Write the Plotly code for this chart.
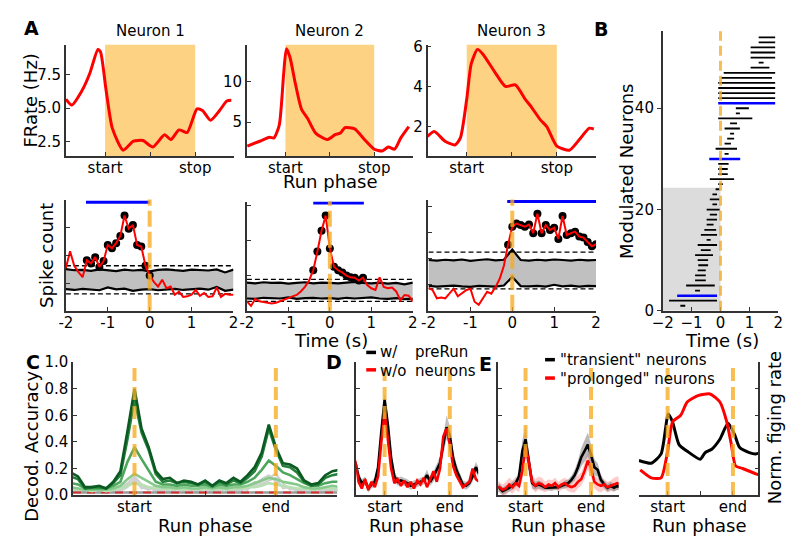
import numpy as np
import plotly.graph_objects as go

W, H = 800, 552
FONT = "DejaVu Sans"
ORANGE = "rgba(247,172,35,0.78)"
ORANGE_FILL = "#fed283"

# ---------------- DATA ----------------
# Panel A top: firing rate (Hz) vs run phase (0 = start, 1 = stop)
n1_phase = [-0.435, -0.37, -0.26, -0.17, -0.08, -0.05, 0.01, 0.08, 0.20, 0.315, 0.42, 0.53, 0.66, 0.73, 0.82, 0.91, 1.02, 1.08, 1.17, 1.27, 1.35, 1.40]
n1_rate = [5.67, 5.23, 6.27, 7.6, 9.4, 9.2, 6.4, 3.5, 1.85, 2.52, 2.57, 2.09, 3.0, 2.64, 3.37, 3.17, 4.94, 4.82, 4.09, 4.82, 5.54, 5.59]
n2_phase = [-0.43, -0.29, -0.18, -0.13, -0.07, -0.02, 0.01, 0.05, 0.11, 0.18, 0.25, 0.34, 0.47, 0.56, 0.62, 0.67, 0.78, 0.89, 1.0, 1.09, 1.16, 1.23, 1.30, 1.39]
n2_rate = [2.06, 2.65, 3.13, 3.06, 4.64, 11.0, 14.0, 13.0, 9.8, 6.6, 5.44, 3.65, 2.86, 3.45, 3.65, 4.32, 4.17, 2.86, 1.67, 1.46, 1.94, 1.67, 3.06, 4.44]
n3_phase = [-0.435, -0.36, -0.24, -0.13, -0.07, 0.0, 0.05, 0.12, 0.18, 0.31, 0.43, 0.54, 0.65, 0.72, 0.82, 0.89, 1.0, 1.14, 1.25, 1.36, 1.41]
n3_rate = [1.53, 1.77, 1.29, 1.10, 1.46, 3.38, 5.15, 5.87, 5.63, 4.75, 4.02, 4.1, 3.38, 2.98, 2.34, 2.01, 1.05, 0.84, 1.37, 1.94, 1.9]

# Panel A bottom: spike counts around run start (s)
t_fine = [round(-2 + 0.1 * i, 1) for i in range(41)]
t_coarse = [round(-2 + 0.2 * i, 1) for i in range(21)]
n1_count = [1.54, 2.14, 1.62, 1.39, 1.21, 1.82, 1.70, 1.93, 1.58, 1.79, 2.37, 2.25, 2.43, 2.69, 3.43, 2.95, 3.09, 2.37, 2.31, 1.62, 1.27,
            1.04, 0.87, 1.12, 0.81, 0.87, 0.58, 0.69, 0.50, 0.52, 0.58, 0.75, 0.54, 0.64, 0.50, 0.52, 0.84, 0.50, 0.61, 0.58, 0.58]
n1_upper = [1.50, 1.46, 1.47, 1.44, 1.49, 1.46, 1.43, 1.48, 1.45, 1.47, 1.42, 1.47, 1.49, 1.46, 1.44, 1.48, 1.47, 1.45, 1.49, 1.38, 1.48]
n1_lower = [0.78, 0.75, 0.79, 0.76, 0.74, 0.84, 0.77, 0.80, 0.72, 0.76, 0.78, 0.74, 0.77, 0.79, 0.75, 0.77, 0.80, 0.76, 0.86, 0.72, 0.76]
n1_thresh = [1.62, 0.61]
n1_sig = [-1.52, 0.0, 3.9]

n2_count = [0.27, 0.14, 0.34, 0.27, 0.25, 0.23, 0.21, 0.23, 0.27, 0.30, 0.36, 0.41, 0.45, 0.55, 0.68, 0.86, 1.15, 1.68, 2.27, 2.70, 1.77,
            1.25, 1.15, 1.09, 1.00, 0.95, 0.94, 0.86, 0.94, 0.73, 0.64, 0.59, 0.95, 0.68, 0.64, 0.66, 0.55, 0.30, 0.45, 0.43, 0.27]
n2_upper = [0.80, 0.78, 0.81, 0.79, 0.80, 0.77, 0.79, 0.81, 0.78, 0.80, 0.79, 0.78, 0.80, 0.82, 0.79, 0.78, 0.80, 0.77, 0.79, 0.75, 0.80]
n2_lower = [0.35, 0.34, 0.37, 0.36, 0.35, 0.38, 0.34, 0.36, 0.37, 0.35, 0.36, 0.34, 0.37, 0.35, 0.36, 0.38, 0.35, 0.34, 0.36, 0.33, 0.34]
n2_thresh = [0.89, 0.27]
n2_sig = [-0.40, 0.82, 3.06]

n3_count = [0.89, 0.79, 0.48, 0.51, 0.48, 0.66, 0.85, 0.56, 0.66, 0.79, 0.85, 0.35, 0.23, 0.48, 0.73, 0.66, 0.91, 1.23, 1.73, 2.54, 3.23,
            3.35, 3.29, 3.23, 3.31, 2.98, 3.73, 2.98, 3.29, 3.10, 3.19, 2.76, 3.64, 2.91, 2.98, 3.04, 2.85, 2.81, 2.64, 2.48, 2.56]
n3_upper = [1.95, 1.93, 1.96, 1.94, 1.97, 1.92, 1.95, 1.98, 1.94, 1.96, 2.35, 1.95, 1.93, 1.96, 1.94, 1.97, 1.95, 1.93, 1.96, 1.94, 1.95]
n3_lower = [0.96, 0.93, 0.95, 0.97, 0.94, 0.92, 0.96, 0.95, 0.93, 0.97, 1.30, 0.95, 0.94, 0.96, 0.93, 1.00, 0.94, 0.97, 0.93, 0.96, 0.95]
n3_thresh = [2.25, 0.84]
n3_sig = [-0.12, 2.0, 4.2]

# Panel B: modulation windows (s) for each modulated neuron (rows 1..54)
b_start = [-1.39, -1.78, -1.50, -0.88, -1.19, -0.88, -0.88, -0.79, -0.77, -0.79, -0.88, -0.68, -0.79, -0.48, -0.68, -0.56, -0.48, -0.48,
           -0.37, -0.48, -0.28, -0.37, -0.28, -0.17, -0.08, -0.37, -0.08, -0.08, -0.08, -0.39, 0.14, -0.17, 0.14, 0.23, 0.33, 0.14,
           0.33, -0.08, 0.53, 0.53, -0.08, -0.08, -0.08, -0.08, -0.08, 0.02, 0.11, 1.04, 1.32, 1.04, 1.04, 1.04, 1.32, 1.32]
b_end = [-1.22, -0.12, -0.12, -0.71, -0.20, -0.51, -0.51, -0.51, -0.43, -0.43, -0.26, -0.34, -0.12, -0.34, -0.12, -0.15, -0.24, -0.12,
         -0.12, -0.03, -0.12, -0.03, -0.12, -0.03, 0.08, 0.47, 0.25, 0.25, 0.28, 0.68, 0.28, 0.57, 0.36, 0.47, 0.47, 0.67,
         0.57, 1.10, 0.67, 0.98, 1.89, 1.89, 1.89, 1.89, 1.89, 1.78, 1.89, 1.69, 1.49, 1.89, 1.89, 1.89, 1.89, 1.89]
b_highlight = [3, 30, 41]
b_pre_rows = 24.3

# Panel C: decoding accuracy vs run phase
phase = [round(-0.45 + 0.05 * i, 2) for i in range(39)]
acc_g1 = [0.17, 0.14, 0.06, 0.06, 0.07, 0.05, 0.10, 0.18, 0.48, 0.80, 0.50, 0.36, 0.18, 0.12, 0.13, 0.09, 0.11, 0.10, 0.08, 0.11,
          0.07, 0.11, 0.09, 0.13, 0.10, 0.15, 0.21, 0.32, 0.53, 0.36, 0.24, 0.23, 0.20, 0.11, 0.08, 0.09, 0.15, 0.18, 0.19]
acc_g2 = [0.14, 0.12, 0.05, 0.06, 0.06, 0.05, 0.09, 0.15, 0.42, 0.72, 0.47, 0.34, 0.16, 0.10, 0.11, 0.09, 0.10, 0.09, 0.08, 0.10,
          0.07, 0.10, 0.08, 0.11, 0.09, 0.13, 0.18, 0.29, 0.50, 0.34, 0.22, 0.21, 0.17, 0.10, 0.07, 0.08, 0.13, 0.15, 0.16]
acc_g3 = [0.09, 0.08, 0.05, 0.05, 0.05, 0.05, 0.07, 0.10, 0.25, 0.36, 0.27, 0.18, 0.10, 0.08, 0.08, 0.07, 0.08, 0.07, 0.07, 0.08,
          0.06, 0.08, 0.07, 0.08, 0.08, 0.10, 0.13, 0.19, 0.26, 0.22, 0.17, 0.15, 0.12, 0.09, 0.07, 0.07, 0.09, 0.10, 0.10]
acc_g4 = [0.06, 0.05, 0.04, 0.04, 0.04, 0.04, 0.05, 0.07, 0.12, 0.16, 0.13, 0.10, 0.07, 0.06, 0.06, 0.05, 0.06, 0.05, 0.05, 0.06,
          0.05, 0.06, 0.05, 0.06, 0.06, 0.07, 0.09, 0.11, 0.13, 0.12, 0.10, 0.09, 0.08, 0.06, 0.05, 0.05, 0.06, 0.07, 0.06]
acc_g5 = [0.05, 0.04, 0.04, 0.03, 0.04, 0.03, 0.04, 0.05, 0.07, 0.09, 0.08, 0.06, 0.05, 0.05, 0.04, 0.05, 0.04, 0.05, 0.04, 0.05,
          0.04, 0.05, 0.04, 0.05, 0.05, 0.06, 0.06, 0.07, 0.09, 0.08, 0.07, 0.06, 0.05, 0.05, 0.04, 0.05, 0.05, 0.05, 0.04]
acc_shuf1 = [0.04, 0.03, 0.05, 0.02, 0.04, 0.06, 0.03, 0.05, 0.08, 0.10, 0.06, 0.04, 0.07, 0.03, 0.05, 0.04, 0.06, 0.03, 0.05, 0.04,
             0.03, 0.06, 0.04, 0.05, 0.03, 0.06, 0.08, 0.12, 0.15, 0.10, 0.07, 0.05, 0.04, 0.06, 0.03, 0.05, 0.04, 0.03, 0.05]
acc_shuf2 = [0.03, 0.05, 0.02, 0.04, 0.03, 0.02, 0.05, 0.03, 0.06, 0.12, 0.05, 0.06, 0.03, 0.05, 0.02, 0.06, 0.03, 0.05, 0.02, 0.05,
             0.06, 0.03, 0.05, 0.02, 0.05, 0.04, 0.10, 0.08, 0.11, 0.13, 0.05, 0.06, 0.03, 0.04, 0.05, 0.02, 0.06, 0.04, 0.03]
acc_shuf3 = [0.05, 0.04, 0.03, 0.05, 0.02, 0.04, 0.03, 0.06, 0.09, 0.14, 0.08, 0.05, 0.04, 0.03, 0.06, 0.02, 0.05, 0.04, 0.03, 0.06,
             0.02, 0.04, 0.05, 0.03, 0.06, 0.05, 0.07, 0.10, 0.13, 0.16, 0.09, 0.04, 0.05, 0.03, 0.06, 0.04, 0.03, 0.05, 0.04]
chance_level = 0.02

# Panel D: with / without preRun neurons
d_with = [0.25, 0.14, 0.09, 0.11, 0.05, 0.08, 0.10, 0.21, 0.48, 0.72, 0.53, 0.28, 0.14, 0.10, 0.11, 0.10, 0.09, 0.07, 0.08, 0.09,
          0.10, 0.11, 0.15, 0.10, 0.14, 0.19, 0.24, 0.38, 0.51, 0.45, 0.28, 0.19, 0.14, 0.08, 0.07, 0.09, 0.14, 0.21, 0.16]
d_with_sem = [0.03, 0.03, 0.03, 0.03, 0.03, 0.03, 0.03, 0.04, 0.06, 0.05, 0.06, 0.05, 0.04, 0.03, 0.03, 0.03, 0.03, 0.03, 0.03, 0.03,
              0.03, 0.03, 0.04, 0.03, 0.04, 0.04, 0.05, 0.07, 0.09, 0.07, 0.06, 0.05, 0.04, 0.03, 0.03, 0.03, 0.04, 0.04, 0.04]
d_without = [0.26, 0.10, 0.05, 0.12, 0.04, 0.10, 0.06, 0.14, 0.40, 0.62, 0.42, 0.20, 0.09, 0.12, 0.07, 0.11, 0.06, 0.10, 0.05, 0.11,
             0.08, 0.13, 0.06, 0.12, 0.18, 0.10, 0.20, 0.44, 0.50, 0.38, 0.22, 0.15, 0.10, 0.06, 0.08, 0.10, 0.20, 0.12, 0.10]

# Panel E (left): transient vs prolonged neurons, decoding
e_trans = [0.06, 0.055, 0.03, 0.04, 0.055, 0.07, 0.09, 0.14, 0.33, 0.42, 0.24, 0.09, 0.07, 0.08, 0.07, 0.055, 0.055, 0.055, 0.055, 0.06,
           0.07, 0.08, 0.09, 0.115, 0.15, 0.21, 0.285, 0.33, 0.38, 0.30, 0.21, 0.19, 0.115, 0.08, 0.055, 0.07, 0.055, 0.07, 0.06]
e_trans_sem = [0.03, 0.03, 0.03, 0.03, 0.03, 0.03, 0.03, 0.04, 0.08, 0.10, 0.07, 0.04, 0.03, 0.03, 0.03, 0.02, 0.02, 0.02, 0.02, 0.02,
               0.02, 0.03, 0.03, 0.03, 0.04, 0.05, 0.07, 0.08, 0.09, 0.08, 0.06, 0.05, 0.04, 0.03, 0.03, 0.03, 0.03, 0.03, 0.03]
e_prol = [0.06, 0.06, 0.04, 0.05, 0.08, 0.06, 0.09, 0.07, 0.18, 0.36, 0.25, 0.10, 0.07, 0.09, 0.08, 0.06, 0.08, 0.07, 0.09, 0.06,
          0.08, 0.09, 0.07, 0.06, 0.07, 0.10, 0.12, 0.18, 0.26, 0.20, 0.10, 0.08, 0.07, 0.08, 0.06, 0.07, 0.08, 0.09, 0.08]
e_prol_sem = [0.04, 0.04, 0.04, 0.05, 0.05, 0.05, 0.05, 0.05, 0.07, 0.08, 0.07, 0.05, 0.05, 0.05, 0.05, 0.04, 0.04, 0.04, 0.04, 0.04,
              0.04, 0.04, 0.04, 0.04, 0.05, 0.05, 0.05, 0.06, 0.07, 0.06, 0.05, 0.05, 0.05, 0.04, 0.04, 0.04, 0.05, 0.05, 0.05]

# Panel E (right): normalized firing rate
fr_trans_phase = [-0.44, -0.25, -0.10, 0.01, 0.075, 0.175, 0.30, 0.50, 0.575, 0.675, 0.80, 0.925, 1.025, 1.10, 1.25, 1.35, 1.42]
fr_trans = [0.26, 0.24, 0.31, 0.61, 0.55, 0.38, 0.33, 0.27, 0.32, 0.345, 0.42, 0.54, 0.455, 0.36, 0.32, 0.31, 0.32]
fr_prol_phase = [-0.42, -0.25, -0.10, 0.0, 0.075, 0.2, 0.3, 0.475, 0.65, 0.8, 0.9, 0.975, 1.04, 1.15, 1.35, 1.42]
fr_prol = [0.19, 0.13, 0.13, 0.33, 0.55, 0.60, 0.70, 0.75, 0.76, 0.70, 0.56, 0.38, 0.22, 0.20, 0.16, 0.15]

# ---------------- FIGURE ----------------
fig = go.Figure()
shapes = []
annots = []

base = dict(showline=True, linecolor='#333', linewidth=1.5, ticks='inside', ticklen=4, tickwidth=1.3,
            tickcolor='#333', showgrid=False, zeroline=False, fixedrange=True,
            tickfont=dict(size=15, color='black', family=FONT))


def make_axes(i, px0, px1, ptop, pbot, xr, yr, xkw=None, ykw=None):
    s = '' if i == 1 else str(i)
    xd = dict(base, domain=[px0 / W, px1 / W], range=xr, anchor='y' + s, ticklabelstandoff=-3)
    xd.update(xkw or {})
    yd = dict(base, domain=[1 - pbot / H, 1 - ptop / H], range=yr, anchor='x' + s)
    yd.update(ykw or {})
    fig.update_layout(**{'xaxis' + s: xd, 'yaxis' + s: yd})
    return 'x' + s, 'y' + s


def line(xn, yn, x, y, color, width, dash=None, shape='linear', mode='lines'):
    fig.add_trace(go.Scatter(x=x, y=y, xaxis=xn, yaxis=yn, mode=mode, showlegend=False, hoverinfo='skip',
                             line=dict(color=color, width=width, dash=dash, shape=shape, smoothing=0.6)))


def band(xn, yn, x, lo, hi, color):
    fig.add_trace(go.Scatter(x=list(x) + list(x)[::-1], y=list(hi) + list(lo)[::-1], xaxis=xn, yaxis=yn,
                             mode='lines', fill='toself', fillcolor=color, line=dict(width=0),
                             showlegend=False, hoverinfo='skip'))


def vdash(xn, yn, xval, width=4, dash='13px,6px', y0=0, y1=1):
    shapes.append(dict(type='line', xref=xn, yref=yn + ' domain', x0=xval, x1=xval, y0=y0, y1=y1,
                       line=dict(color=ORANGE, width=width, dash=dash), layer='above'))


def text(t, x, y, size=15, bold=False, angle=0, xanchor='center'):
    annots.append(dict(text=('<b>%s</b>' % t) if bold else t, x=x / W, y=1 - y / H, xref='paper', yref='paper',
                       showarrow=False, textangle=angle, xanchor=xanchor, yanchor='middle',
                       font=dict(size=size, color='black', family=FONT)))


PR = [-0.435, 1.435]
phase_x = dict(tickvals=[0, 0.5, 1], ticktext=['start', '', 'end'])

# --- A top ---
top_specs = [
    (1, 56, 228, n1_phase, n1_rate, [1.41, 9.75], [2.5, 5.0, 7.5], ['2.5', '5.0', '7.5'], 'Neuron 1'),
    (2, 240.7, 410, n2_phase, n2_rate, [0.83, 14.5], [5, 10], ['5', '10'], 'Neuron 2'),
    (3, 425, 597, n3_phase, n3_rate, [0.55, 6.1], [2, 4, 6], ['2', '4', '6'], 'Neuron 3'),
]
for i, a, b, px, py, yr, tv, tt, title in top_specs:
    xn, yn = make_axes(i, a, b, 37, 152, PR, yr,
                       dict(tickvals=[0, 0.5, 1], ticktext=['start', '', 'stop']),
                       dict(tickvals=tv, ticktext=tt))
    shapes.append(dict(type='rect', xref=xn, yref=yn + ' domain', x0=0, x1=1, y0=0, y1=1,
                       fillcolor=ORANGE_FILL, line=dict(width=0), layer='below'))
    line(xn, yn, px, py, 'red', 3, shape='spline')
    text(title, (a + b) / 2, 23, 15)

# --- A bottom ---
bot_specs = [
    (4, 56, 227, 197, n1_count, n1_upper, n1_lower, n1_thresh, n1_sig, [0, 4.0], [1, 2, 3, 4]),
    (5, 240.7, 410, 199, n2_count, n2_upper, n2_lower, n2_thresh, n2_sig, [0, 3.1], [1, 2, 3]),
    (6, 426, 597, 197, n3_count, n3_upper, n3_lower, n3_thresh, n3_sig, [0, 4.27], [1, 2, 3, 4]),
]
for i, a, b, top, cnt, up, lo, th, sig, yr, tv in bot_specs:
    xn, yn = make_axes(i, a, b, top, 312, [-2, 2], yr,
                       dict(tickvals=[-2, -1, 0, 1, 2], ticktext=['-2', '-1', '0', '1', '2']),
                       dict(tickvals=tv, showticklabels=False))
    band(xn, yn, t_coarse, lo, up, '#c0c0c0')
    line(xn, yn, t_coarse, up, 'black', 2.2)
    line(xn, yn, t_coarse, lo, 'black', 2.2)
    for v in th:
        line(xn, yn, [-2, 2], [v, v], 'black', 1.3, dash='5px,3px')
    sx = [t for t in t_fine if sig[0] - 1e-9 <= t <= sig[1] + 1e-9]
    sy = [c for t, c in zip(t_fine, cnt) if sig[0] - 1e-9 <= t <= sig[1] + 1e-9]
    fig.add_trace(go.Scatter(x=sx, y=sy, xaxis=xn, yaxis=yn, mode='markers', showlegend=False, hoverinfo='skip',
                             marker=dict(color='black', size=8)))
    line(xn, yn, t_fine, cnt, 'red', 2)
    line(xn, yn, [sig[0], sig[1]], [sig[2], sig[2]], 'blue', 3)
    vdash(xn, yn, 0, width=4, dash='16px,5px')

# --- B ---
xn, yn = make_axes(7, 665, 783, 23, 312, [-2, 2], [0, 55.2],
                   dict(tickvals=[-2, -1, 0, 1, 2], ticktext=['\u22122', '\u22121', '0', '1', '2']),
                   dict(tickvals=[0, 20, 40], ticks='outside'))
shapes.append(dict(type='rect', xref=xn, yref=yn, x0=-2, x1=0, y0=0, y1=b_pre_rows,
                   fillcolor='#dcdcdc', line=dict(width=0), layer='below'))
bx, by, hx, hy = [], [], [], []
for k, (s, e) in enumerate(zip(b_start, b_end), start=1):
    if k in b_highlight:
        hx += [s, e, None]; hy += [k, k, None]
    else:
        bx += [s, e, None]; by += [k, k, None]
line(xn, yn, bx, by, 'black', 1.8)
line(xn, yn, hx, hy, 'blue', 2.5)
vdash(xn, yn, 0, width=3, dash='10px,5px')

# --- C ---
xn, yn = make_axes(8, 63.3, 333, 365, 502.5, PR, [0, 1.0], phase_x,
                   dict(tickvals=[0, 0.2, 0.4, 0.6, 0.8, 1.0], ticktext=['0.0', '0.2', '0.4', '0.6', '0.8', '1.0']))
for arr in (acc_shuf1, acc_shuf2, acc_shuf3):
    line(xn, yn, phase, arr, '#cfcfcf', 2)
line(xn, yn, [PR[0], PR[1]], [chance_level, chance_level], '#9a9a9a', 2.5)
line(xn, yn, [PR[0], PR[1]], [chance_level, chance_level], '#d43030', 2, dash='8px,6px')
for arr, col in ((acc_g5, '#b8e0b4'), (acc_g4, '#86c98a'), (acc_g3, '#4ca65c'), (acc_g2, '#237f3a'), (acc_g1, '#0b5a22')):
    line(xn, yn, phase, arr, col, 2.6)
vdash(xn, yn, 0)
vdash(xn, yn, 1)

# --- D ---
xn, yn = make_axes(9, 352.3, 476.7, 365, 502.5, PR, [0, 1.0], phase_x,
                   dict(tickvals=[0.2, 0.4, 0.6, 0.8, 1.0], showticklabels=False))
band(xn, yn, phase, [m - s for m, s in zip(d_with, d_with_sem)], [m + s for m, s in zip(d_with, d_with_sem)], 'rgba(140,140,140,0.55)')
line(xn, yn, phase, d_with, 'black', 2.6)
line(xn, yn, phase, d_without, 'red', 2.6)
vdash(xn, yn, 0)
vdash(xn, yn, 1)

# --- E left ---
xn, yn = make_axes(10, 497.3, 620, 365, 502.5, [-0.415, 1.42], [0, 1.0], phase_x,
                   dict(tickvals=[0.2, 0.4, 0.6, 0.8, 1.0], showticklabels=False))
band(xn, yn, phase, [m - s for m, s in zip(e_prol, e_prol_sem)], [m + s for m, s in zip(e_prol, e_prol_sem)], 'rgba(255,80,80,0.3)')
band(xn, yn, phase, [m - s for m, s in zip(e_trans, e_trans_sem)], [m + s for m, s in zip(e_trans, e_trans_sem)], 'rgba(130,130,130,0.55)')
line(xn, yn, phase, e_trans, 'black', 2.6)
line(xn, yn, phase, e_prol, 'red', 2.6)
vdash(xn, yn, 0)
vdash(xn, yn, 1)

# --- E right ---
xn, yn = make_axes(11, 640.7, 762.7, 365, 502.5, [-0.44, 1.39], [0, 1.0], phase_x,
                   dict(tickvals=[0.2, 0.4, 0.6, 0.8, 1.0], showticklabels=False, side='right'))
line(xn, yn, fr_trans_phase, fr_trans, 'black', 3, shape='spline')
line(xn, yn, fr_prol_phase, fr_prol, 'red', 3, shape='spline')
vdash(xn, yn, 0)
vdash(xn, yn, 1)

# --- legends (D, E) ---
for (x0, y, col) in ((362.5, 355, 'black'), (362.5, 373, 'red'), (545, 362.5, 'black'), (545, 381.5, 'red')):
    shapes.append(dict(type='line', xref='paper', yref='paper', x0=x0 / W, x1=(x0 + 10) / W,
                       y0=1 - y / H, y1=1 - y / H, line=dict(color=col, width=3.5)))
text('w/', 374, 355, 15, xanchor='left')
text('w/o', 374, 374, 15, xanchor='left')
text('preRun', 410, 355, 15, xanchor='left')
text('neurons', 410, 374, 15, xanchor='left')
text('"transient" neurons', 558, 363, 15, xanchor='left')
text('"prolonged" neurons', 558, 382, 15, xanchor='left')

# --- labels ---
text('A', 21, 20, 19, bold=True)
text('B', 602, 21, 19, bold=True)
text('C', 22, 365, 19, bold=True)
text('D', 330, 365, 19, bold=True)
text('E', 484, 367, 19, bold=True)
text('FRate (Hz)', 20, 95, 18, angle=-90)
text('Spike count', 36, 255, 18, angle=-90)
text('Modulated Neurons', 628, 168, 18, angle=-90)
text('Decod. Accuracy', 21, 452, 18, angle=-90)
text('Norm. figing rate', 779, 433, 18, angle=-90)
text('Run phase', 326, 178, 18)
text('Time (s)', 327, 343, 18)
text('Time (s)', 725, 343, 18)
text('Run phase', 198, 534, 18)
text('Run phase', 414, 534, 18)
text('Run phase', 559, 534, 18)
text('Run phase', 703, 534, 18)

fig.update_layout(width=W, height=H, autosize=False, margin=dict(l=0, r=0, t=0, b=0),
                  paper_bgcolor='white', plot_bgcolor='rgba(0,0,0,0)',
                  shapes=shapes, annotations=annots, showlegend=False,
                  font=dict(family=FONT, size=15, color='black'))
fig.write_html('out.html', config={'displayModeBar': False},
               post_script="document.body.style.margin='0';document.body.style.overflow='hidden';")
